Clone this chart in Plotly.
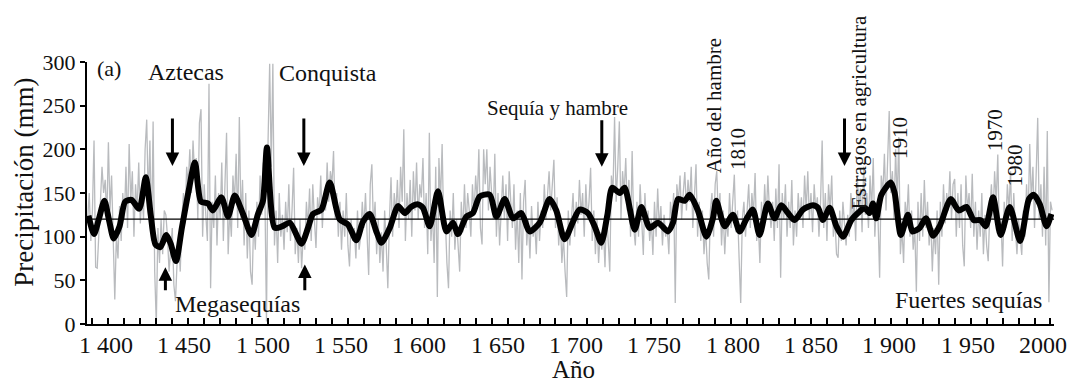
import plotly.graph_objects as go

# ---------------- data ----------------
GRAY_START = 1397
gray_values = [
    120, 150, 95,
    130, 210, 65, 64, 110, 140, 180, 150, 165, 120,
    208, 130, 170, 90, 28, 100, 75, 135, 95, 150,
    120, 180, 110, 206, 140, 175, 100, 160, 130, 185,
    115, 150, 120, 200, 234, 140, 210, 95, 232, 60,
    0, 110, 70, 120, 80, 130, 125, 100, 60, 85,
    110, 45, 26, 70, 95, 60, 120, 150, 115, 180,
    160, 200, 150, 210, 170, 190, 120, 230, 246, 100,
    160, 125, 95, 275, 41, 140, 110, 170, 90, 150,
    120, 185, 95, 160, 219, 80, 130, 100, 170, 140,
    195, 110, 237, 120, 165, 90, 150, 75, 130, 60,
    45, 120, 85, 140, 100, 170, 125, 185, 150, 3,
    210, 298, 180, 298, 90, 130, 70, 150, 100, 125,
    85, 140, 105, 160, 95, 130, 179, 80, 110, 70,
    120, 64, 100, 85, 140, 110, 155, 95, 160, 120,
    87, 145, 125, 170, 110, 150, 130, 185, 140, 175,
    160, 198, 120, 150, 100, 140, 85, 130, 100, 150,
    90, 66, 120, 95, 110, 75, 130, 85, 100, 140,
    110, 150, 95, 56, 160, 183, 110, 140, 80, 120,
    70, 105, 60, 130, 90, 41, 120, 168, 100, 150,
    125, 165, 110, 180, 140, 223, 95, 150, 120, 165,
    100, 175, 130, 185, 120, 160, 145, 190, 110, 150,
    80, 219, 95, 130, 70, 180, 31, 190, 140, 206,
    110, 120, 70, 41, 130, 100, 150, 85, 120, 90,
    60, 140, 105, 160, 110, 150, 130, 100, 160, 125,
    170, 140, 200, 110, 91, 200, 160, 200, 130, 180,
    145, 120, 195, 100, 150, 90, 130, 170, 120, 160,
    95, 175, 140, 110, 160, 85, 130, 70, 150, 51,
    140, 165, 90, 120, 75, 135, 100, 115, 80, 140,
    95, 130, 110, 160, 120, 150, 175, 130, 160, 188,
    110, 145, 90, 120, 70, 100, 60, 31, 130, 90,
    120, 150, 100, 140, 115, 165, 125, 150, 100, 160,
    120, 140, 179, 95, 130, 80, 120, 70, 105, 85,
    110, 65, 130, 100, 60, 170, 150, 237, 140, 180,
    232, 120, 175, 150, 190, 130, 165, 100, 198, 110,
    90, 140, 100, 160, 120, 79, 150, 110, 130, 95,
    120, 79, 140, 100, 155, 110, 135, 90, 125, 100,
    110, 80, 140, 120, 150, 24, 160, 140, 170, 120,
    150, 174, 130, 165, 140, 180, 110, 155, 183, 100,
    140, 95, 130, 80, 110, 70, 51, 130, 150, 100,
    160, 175, 120, 150, 90, 130, 80, 120, 100, 150,
    110, 140, 171, 105, 130, 75, 24, 120, 140, 100,
    130, 160, 110, 150, 125, 173, 95, 115, 70, 140,
    110, 160, 120, 170, 130, 110, 140, 95, 155, 110,
    183, 53, 150, 120, 160, 100, 140, 110, 165, 90,
    130, 100, 150, 120, 145, 110, 170, 130, 175, 120,
    150, 105, 160, 130, 145, 100, 140, 210, 110, 150,
    95, 160, 130, 170, 100, 120, 80, 76, 130, 95,
    140, 110, 90, 125, 100, 150, 115, 140, 95, 170,
    130, 155, 105, 180, 125, 150, 110, 170, 130, 190,
    100, 140, 120, 53, 170, 150, 195, 130, 180, 244,
    150, 175, 120, 200, 140, 214, 80, 110, 70, 140,
    120, 160, 100, 130, 85, 110, 37, 140, 95, 150,
    100, 165, 110, 140, 90, 120, 60, 110, 80, 130,
    45, 140, 100, 160, 115, 150, 130, 175, 120, 160,
    166, 100, 150, 110, 160, 90, 66, 170, 130, 150,
    110, 172, 100, 140, 85, 130, 100, 150, 80, 125,
    90, 72, 130, 160, 120, 175, 140, 194, 100, 120,
    66, 140, 110, 160, 130, 175, 95, 150, 110, 80,
    120, 100, 79, 130, 100, 160, 120, 206, 140, 180,
    110, 170, 236, 120, 160, 100, 180, 90, 221, 25,
    140, 130,
]
gray_years = list(range(GRAY_START, GRAY_START + len(gray_values)))

smooth_years = [
    1397.5, 1401.0, 1404.0, 1407.5, 1410.5, 1413.3, 1417.0, 1420.5, 1424.5, 1429.3,
    1433.4, 1436.5, 1439.5, 1442.5, 1446.3, 1449.0, 1452.3, 1456.0, 1460.0, 1464.2,
    1468.0, 1472.4, 1475.3, 1480.8, 1484.9, 1489.1, 1494.3, 1499.6, 1503.7, 1506.8,
    1509.3, 1514.2, 1519.0, 1523.6, 1530.9, 1535.0, 1538.1, 1543.4, 1548.6, 1554.8,
    1560.0, 1565.3, 1569.4, 1573.6, 1578.0, 1581.0, 1586.2, 1591.4, 1595.6, 1599.5,
    1603.9, 1607.0, 1611.2, 1616.4, 1621.7, 1625.8, 1628.9, 1634.2, 1638.3, 1642.5,
    1648.8, 1653.0, 1658.2, 1663.4, 1668.6, 1673.8, 1680.1, 1686.3, 1690.5, 1695.7,
    1700.9, 1705.1, 1710.3, 1714.5, 1718.7, 1722.5, 1725.5, 1730.2, 1733.3, 1739.6,
    1743.8, 1749.0, 1754.2, 1760.4, 1763.6, 1766.7, 1770.9, 1774.0, 1779.2, 1784.5,
    1788.6, 1790.7, 1795.9, 1801.1, 1805.3, 1809.5, 1813.6, 1817.8, 1823.0, 1827.2,
    1831.4, 1835.6, 1839.8, 1845.0, 1851.2, 1854.4, 1857.5, 1861.7, 1865.9, 1870.0,
    1875.3, 1879.4, 1883.6, 1886.7, 1888.8, 1890.9, 1894.1, 1900.0, 1902.4, 1906.3,
    1910.7, 1913.5, 1918.0, 1922.0, 1926.5, 1930.6, 1937.5, 1942.5, 1947.4, 1952.0,
    1956.0, 1959.5, 1964.0, 1968.8, 1974.5, 1981.0, 1986.5, 1989.5, 1993.3, 1997.5,
    2000.6,
]
smooth_values = [
    124, 103, 120, 141, 118, 98, 112, 140, 142, 132,
    168, 125, 91, 88, 102, 92, 72, 110, 150, 185,
    140, 138, 130, 145, 123, 147, 126, 102, 126, 141,
    202, 110, 112, 116, 92, 110, 126, 131, 162, 120,
    114, 96, 117, 126, 105, 93, 110, 135, 127, 134,
    137, 133, 112, 152, 106, 116, 103, 123, 127, 146,
    148, 123, 143, 121, 127, 106, 116, 143, 130, 97,
    117, 131, 127, 112, 93, 125, 156, 150, 156, 108,
    134, 110, 116, 106, 116, 143, 141, 148, 130, 100,
    121, 141, 112, 125, 106, 120, 131, 102, 138, 121,
    136, 127, 119, 131, 136, 133, 119, 133, 112, 100,
    119, 127, 133, 127, 138, 121, 148, 162, 150, 102,
    125, 106, 110, 121, 101, 112, 143, 130, 134, 119,
    119, 112, 145, 102, 134, 95, 143, 148, 137, 112,
    126,
]
mean_value = 120

tick_years = list(range(1400, 2001, 10))
label_years = list(range(1400, 2001, 50))
label_texts = ["1 400", "1 450", "1 500", "1 550", "1 600", "1 650", "1 700",
               "1 750", "1 800", "1 850", "1 900", "1 950", "2000"]

# ---------------- figure ----------------
FONT = "Liberation Serif"
INK = "#111111"

fig = go.Figure()
fig.add_trace(go.Scatter(x=gray_years, y=gray_values, mode="lines",
                         line=dict(color="rgb(185,187,190)", width=1.3),
                         hoverinfo="skip", showlegend=False))
fig.add_trace(go.Scatter(x=smooth_years, y=smooth_values, mode="lines",
                         line=dict(color="black", width=6, shape="spline", smoothing=0.7),
                         hoverinfo="skip", showlegend=False))

fig.add_shape(type="line", xref="paper", yref="y", x0=0, x1=1,
              y0=mean_value, y1=mean_value,
              line=dict(color="black", width=1.2), layer="above")

ann = []

def text(x, y, s, size, angle=0, xanchor="center"):
    ann.append(dict(x=x, y=y, xref="x", yref="y", text=s, showarrow=False,
                    textangle=angle, xanchor=xanchor, yanchor="middle",
                    font=dict(family=FONT, size=size, color=INK)))

def arrow(x, y_tail, y_tip):
    ann.append(dict(x=x, y=y_tip, ax=x, ay=y_tail, xref="x", yref="y",
                    axref="x", ayref="y", text="", showarrow=True,
                    arrowhead=2, arrowsize=0.9, arrowwidth=3,
                    arrowcolor="black", standoff=0, startstandoff=0))

text(1401.5, 292, "(a)", 22, xanchor="left")
text(1458.5, 288, "Aztecas", 24)
text(1547.5, 287, "Conquista", 24)
text(1491.0, 23, "Megasequías", 24)
text(1691.0, 247, "Sequía y hambre", 21)
text(1789.0, 250, "Año del hambre", 21, angle=-90)
text(1804.7, 200, "1810", 21, angle=-90)
text(1879.8, 242, "Estragos en agricultura", 21, angle=-90)
text(1905.8, 213, "1910", 21, angle=-90)
text(1965.4, 222, "1970", 21, angle=-90)
text(1978.0, 182, "1980", 21, angle=-90)
text(1948.7, 27, "Fuertes sequías", 24)

arrow(1450.1, 237, 181)
arrow(1532.4, 237, 181)
arrow(1719.0, 235, 180)
arrow(1871.0, 237, 181)
arrow(1445.7, 37, 65)
arrow(1533.0, 37, 68)

# x tick labels (the printed labels sit on a slightly narrower spacing than the tick marks)
PLOT_LEFT_PX, PLOT_W_PX = 87.3, 966.7
for i, (yr, lab) in enumerate(zip(label_years, label_texts)):
    left_px = 77.3 + 78.3 * i
    ann.append(dict(x=(left_px - PLOT_LEFT_PX) / PLOT_W_PX, y=-0.08,
                    xref="paper", yref="paper", text=lab, showarrow=False,
                    xanchor="left", yanchor="middle",
                    font=dict(family=FONT, size=24, color=INK)))

# axis titles
ann.append(dict(x=-0.066, y=0.54, xref="paper", yref="paper",
                text="Precipitación (mm)", showarrow=False, textangle=-90,
                xanchor="center", yanchor="middle",
                font=dict(family=FONT, size=27, color=INK)))
ann.append(dict(x=0.503, y=-0.232, xref="paper", yref="paper",
                text="Año", showarrow=False, xanchor="center", yanchor="bottom",
                font=dict(family=FONT, size=25, color=INK)))

fig.update_layout(
    width=1068, height=385,
    margin=dict(l=87, r=14, t=62, b=61),
    paper_bgcolor="white", plot_bgcolor="white",
    annotations=ann, showlegend=False,
    font=dict(family=FONT, color=INK),
)
fig.update_xaxes(range=[1396.6, 2002.2], tickmode="array", tickvals=tick_years,
                 ticktext=["" for _ in tick_years], ticks="inside", ticklen=6, tickwidth=2,
                 tickcolor="black", showline=True, linecolor="black", linewidth=2,
                 showgrid=False, zeroline=False)
fig.update_yaxes(range=[0, 300], tickvals=[0, 50, 100, 150, 200, 250, 300],
                 ticks="outside", ticklen=5, tickwidth=2, tickcolor="black",
                 showline=True, linecolor="black", linewidth=2,
                 showgrid=False, zeroline=False,
                 tickfont=dict(family=FONT, size=22, color=INK))

fig.write_html("out.html")
